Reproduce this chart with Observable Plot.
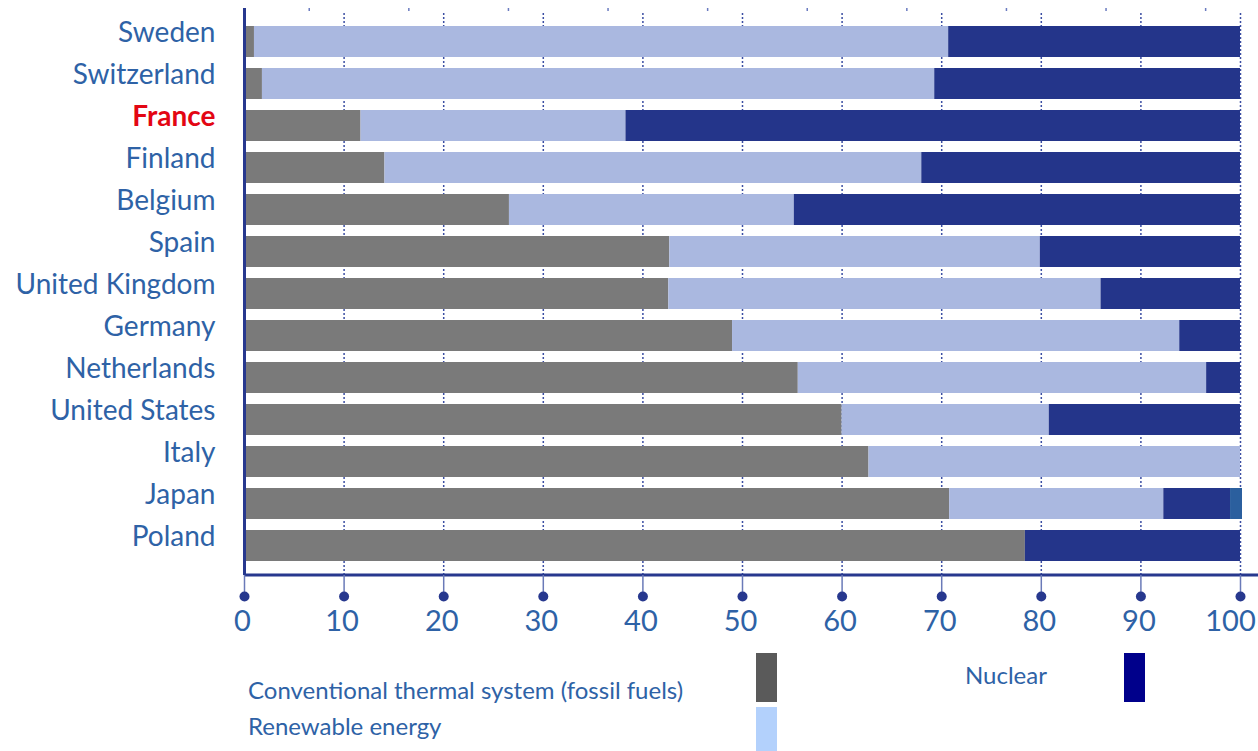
<!DOCTYPE html>
<html>
<head>
<meta charset="utf-8">
<script src="https://cdn.jsdelivr.net/npm/d3@7"></script>
<script src="https://cdn.jsdelivr.net/npm/@observablehq/plot@0.6"></script>
<style>
  html, body { margin: 0; padding: 0; background: #fff; }
  #wrap { position: relative; width: 1258px; height: 751px; overflow: hidden; font-family: Lato, sans-serif; }
  #legend { position: relative; width: 1258px; height: 111px; }
  .lt { position: absolute; font-size: 24px; color: #2e62a6; line-height: 28px; height: 28px; white-space: nowrap; }
  .sw { position: absolute; width: 21px; }
</style>
</head>
<body>
<div id="wrap">
  <div id="chart"></div>
  <div id="legend"></div>
</div>
<script>
const countries = ["Sweden", "Switzerland", "France", "Finland", "Belgium", "Spain", "United Kingdom",
  "Germany", "Netherlands", "United States", "Italy", "Japan", "Poland"];
const sources = ["Conventional thermal system (fossil fuels)", "Renewable energy", "Nuclear", "Other"];
const fossil    = [1.0, 1.8, 11.7, 14.1, 26.6, 42.7, 42.6, 49.0, 55.6, 60.0, 62.7, 70.8, 78.4];
const renewable = [69.7, 67.5, 26.6, 53.9, 28.6, 37.2, 43.4, 44.9, 41.0, 20.8, 37.3, 21.5, 0];
const nuclear   = [29.3, 30.7, 61.7, 32.0, 44.8, 20.1, 14.0, 6.1, 3.4, 19.2, 0, 6.7, 21.6];
const other     = [0, 0, 0, 0, 0, 0, 0, 0, 0, 0, 0, 1.2, 0];
const xTicks = [0, 10, 20, 30, 40, 50, 60, 70, 80, 90, 100];
const topTicks = [6.5, 16.5, 26.5, 36.5, 46.5, 56.5, 66.5, 76.5, 86.5, 96.5];
const highlight = "France";

const barColors = ["#7a7a7a", "#aab8e0", "#24358a", "#2b5f9e"];
const legendItems = [
  {label: sources[0], color: "#5a5a5a"},
  {label: sources[1], color: "#b3d1fc"},
  {label: sources[2], color: "#00008b"}
];

const series = [fossil, renewable, nuclear, other];
const rows = [];
countries.forEach((c, i) => {
  series.forEach((s, j) => {
    if (s[i] > 0) rows.push({country: c, source: sources[j], value: s[i]});
  });
});

const axisBlue = "#27388e";
const textBlue = "#2e62a6";

const chart = Plot.plot({
  width: 1258,
  height: 640,
  marginLeft: 244,
  marginRight: 18,
  marginTop: 13,
  marginBottom: 65,
  style: {fontFamily: "Lato, sans-serif", background: "#fff"},
  x: {domain: [0, 100], label: null},
  y: {domain: countries, range: [20.5, 567], paddingInner: 0.26, paddingOuter: 0.13, axis: null, label: null},
  color: {domain: sources, range: barColors},
  marks: [
    Plot.ruleX(xTicks.slice(1), {stroke: "#3b4ea3", strokeWidth: 1.5, strokeDasharray: "2,2"}),
    Plot.ruleX(topTicks, {stroke: "#6a7bc0", strokeWidth: 1.5, insetTop: -5, insetBottom: 564}),
    Plot.barX(rows, Plot.stackX({y: "country", x: "value", fill: "source", order: sources})),
    Plot.ruleX([0], {stroke: axisBlue, strokeWidth: 3, insetTop: -5}),
    Plot.ruleY([countries[countries.length - 1]], {stroke: axisBlue, strokeWidth: 3, dy: 29, insetRight: -18}),
    Plot.axisX({ticks: xTicks, tickSize: 21, tickPadding: 14, fontSize: 29, fill: textBlue, label: null,
      stroke: "#6a7ab8", strokeWidth: 1.5, tickFormat: d => String(d)}),
    Plot.dot(xTicks, {x: d => d, frameAnchor: "bottom", dy: 21, r: 5, fill: axisBlue}),
    Plot.text(countries.filter(c => c !== highlight), {y: d => d, text: d => d, frameAnchor: "left",
      textAnchor: "end", dx: -29, dy: -9, fill: textBlue, fontSize: 28}),
    Plot.text([highlight], {y: d => d, text: d => d, frameAnchor: "left",
      textAnchor: "end", dx: -29, dy: -9, fill: "#e30613", fontSize: 28, fontWeight: "bold"})
  ]
});
const tickLabels = d3.select(chart).selectAll('g[aria-label="x-axis tick label"] text');
const nLabels = tickLabels.size();
tickLabels.attr("dx", (d, i, nodes) => i === nodes.length - 1 ? -10 : -2);
document.getElementById("chart").appendChild(chart);

// Legend (HTML below the SVG)
const legend = document.getElementById("legend");
const pos = [
  {tx: 248, ty: 36, sx: 756, sy: 13, sh: 49},
  {tx: 248, ty: 72, sx: 756, sy: 67, sh: 44},
  {tx: 965, ty: 21, sx: 1124, sy: 13, sh: 49}
];
legendItems.forEach((it, i) => {
  const p = pos[i];
  const t = document.createElement("div");
  t.className = "lt";
  t.style.left = p.tx + "px";
  t.style.top = p.ty + "px";
  t.textContent = it.label;
  legend.appendChild(t);
  const s = document.createElement("div");
  s.className = "sw";
  s.style.left = p.sx + "px";
  s.style.top = p.sy + "px";
  s.style.height = p.sh + "px";
  s.style.background = it.color;
  legend.appendChild(s);
});
</script>
</body>
</html>
